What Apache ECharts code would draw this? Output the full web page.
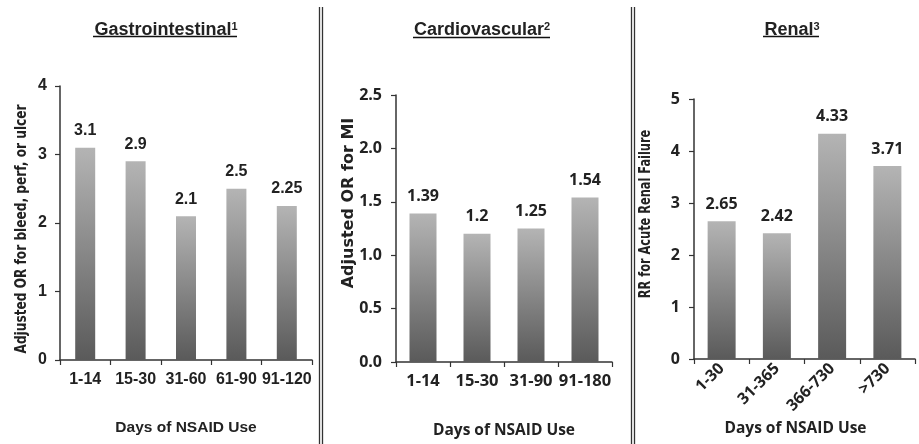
<!DOCTYPE html>
<html><head><meta charset="utf-8">
<script src="https://cdn.jsdelivr.net/npm/echarts@6/dist/echarts.min.js"></script>
<style>html,body{margin:0;padding:0;background:#fff}#c{width:919px;height:444px}</style>
</head><body><div id="c"></div>
<script>
const giCategories = ['1-14','15-30','31-60','61-90','91-120'];
const giValues = [3.1, 2.9, 2.1, 2.5, 2.25];
const giLabels = ['3.1','2.9','2.1','2.5','2.25'];
const cvCategories = ['1-14','15-30','31-90','91-180'];
const cvValues = [1.39, 1.2, 1.25, 1.54];
const cvLabels = ['1.39','1.2','1.25','1.54'];
const reCategories = ['1-30','31-365','366-730','>730'];
const reValues = [2.65, 2.42, 4.33, 3.71];
const reLabels = ['2.65','2.42','4.33','3.71'];
const titles = ['Gastrointestinal', 'Cardiovascular', 'Renal'];
const sups = ['1','2','3'];
const yNames = ['Adjusted OR for bleed, perf, or ulcer', 'Adjusted OR for MI', 'RR for Acute Renal Failure'];
const xName = 'Days of NSAID Use';

const F = 'Liberation Sans';
const F2 = 'Open Sans';
const F3 = 'DejaVu Sans';
const dark = '#222';
const grad = new echarts.graphic.LinearGradient(0,0,0,1,[{offset:0,color:'#b4b4b4'},{offset:1,color:'#5a5a5a'}]);

const grids = [
  {left:60, right:607, top:86, bottom:84},
  {left:396, right:307, top:95, bottom:78},
  {left:694, right:4, top:99, bottom:85}
];
const axisLine = {show:true, lineStyle:{color:'#333', width:1.5}};
const axisTick = {show:true, length:5, lineStyle:{color:'#333', width:1.2}};

function xAx(i, cats, font, size, margin, rotate, gap, pad) {
  return {type:'category', gridIndex:i, data:cats, axisLine, axisTick:Object.assign({alignWithLabel:false}, axisTick),
    axisLabel:{color:dark, fontFamily:font, fontWeight:'bold', fontSize:size, margin, rotate, interval:0},
    name:xName, nameLocation:'middle', nameGap:gap, nameMoveOverlap:false,
    nameTextStyle:{color:dark, fontFamily:font, fontWeight:'bold', fontSize:15.5, verticalAlign:'top', padding:pad}};
}
function yAx(i, max, interval, font, margin, fmt) {
  return {type:'value', gridIndex:i, min:0, max, interval, axisLine, axisTick, splitLine:{show:false},
    axisLabel:{color:dark, fontFamily:font, fontWeight:'bold', fontSize:16, margin, formatter:fmt}};
}
function bar(i, vals, labels, width, font) {
  return {type:'bar', xAxisIndex:i, yAxisIndex:i, data:vals, barWidth:width,
    itemStyle:{color:grad},
    label:{show:true, position:'top', distance:9, color:dark, fontFamily:font, fontWeight:'bold', fontSize:16,
      formatter:p=>labels[p.dataIndex]}};
}
function yNameText(txt, x, y, size, family, sx) {
  return {type:'text', x, y, rotation:Math.PI/2, scaleX:sx, scaleY:1,
    style:{text:txt, fill:dark, font:'bold '+size+'px "'+family+'"', align:'center', verticalAlign:'middle'}};
}
const titleCenters = [161, 477, 787];
const option = {
  animation:false,
  title: titles.map((t,i)=>({text:t+'{s|'+sups[i]+'}', left:titleCenters[i], top:16, textAlign:'center',
    textStyle:{color:dark, fontFamily:F, fontWeight:'bold', fontSize:18,
      rich:{s:{fontSize:11, fontFamily:F, fontWeight:'bold', color:dark, verticalAlign:'top', padding:[0,0,7,0]}}}})),
  grid: grids,
  xAxis:[xAx(0, giCategories, F, 16, 12, 0, 60, 0), xAx(1, cvCategories, F2, 16.5, 11, 0, 61, 0), xAx(2, reCategories, F2, 16, 7, 45, 62, [0,18,0,0])],
  yAxis:[yAx(0,4,1,F,13,v=>String(v)),
         yAx(1,2.5,0.5,F2,14,v=>v.toFixed(1)),
         yAx(2,5,1,F2,14,v=>String(v))],
  series:[bar(0, giValues, giLabels, 20, F), bar(1, cvValues, cvLabels, 27, F2), bar(2, reValues, reLabels, 28, F2)],
  graphic:[
    {type:'line', shape:{x1:93,y1:36.5,x2:237,y2:36.5}, style:{stroke:'#111', lineWidth:1.5}},
    {type:'line', shape:{x1:413,y1:37.5,x2:550,y2:37.5}, style:{stroke:'#111', lineWidth:1.5}},
    {type:'line', shape:{x1:763,y1:36.5,x2:819,y2:36.5}, style:{stroke:'#111', lineWidth:1.5}},
    {type:'line', shape:{x1:319.5,y1:7,x2:319.5,y2:444}, style:{stroke:'#333', lineWidth:1.3}},
    {type:'line', shape:{x1:322.5,y1:7,x2:322.5,y2:444}, style:{stroke:'#333', lineWidth:1.3}},
    {type:'line', shape:{x1:631.5,y1:7,x2:631.5,y2:444}, style:{stroke:'#333', lineWidth:1.3}},
    {type:'line', shape:{x1:634.5,y1:7,x2:634.5,y2:444}, style:{stroke:'#333', lineWidth:1.3}},
    yNameText(yNames[0], 22, 229, 15, F3, 0.81),
    yNameText(yNames[1], 349, 203, 16, F3, 1),
    yNameText(yNames[2], 646, 214, 16, F3, 0.71)
  ]
};
echarts.init(document.getElementById('c')).setOption(option);
</script></body></html>
